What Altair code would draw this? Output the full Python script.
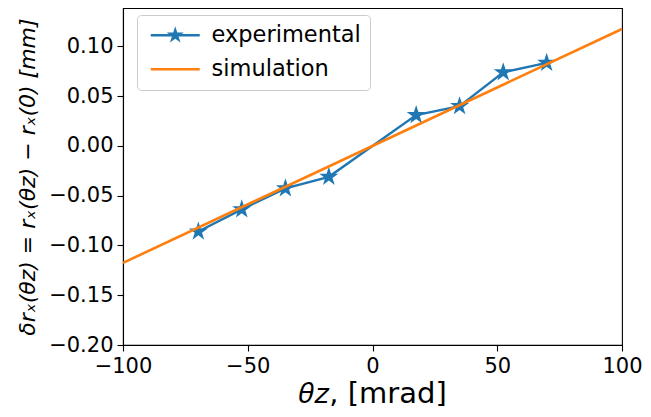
import math
import altair as alt
import pandas as pd

# ---- data ----
exp_x = [-69.8, -52.4, -34.9, -17.5, 17.5, 34.9, 52.4, 69.8]
exp_y = [-0.0860, -0.0637, -0.0426, -0.0310, 0.0310, 0.0400, 0.0740, 0.0835]
sim_x = [-100, 100]
sim_y = [-0.1175, 0.1175]
series = ["experimental", "simulation"]
colors = ["#1f77b4", "#ff7f0e"]
x_ticks = [-100, -50, 0, 50, 100]
y_ticks = [-0.20, -0.15, -0.10, -0.05, 0.00, 0.05, 0.10]


def star_path(R):
    pts = []
    for k in range(10):
        a = math.radians(-90 + 36 * k)
        r = R if k % 2 == 0 else R * 0.381966
        pts.append((r * math.cos(a), r * math.sin(a)))
    return "M" + "L".join(f"{x:.4f},{y:.4f}" for x, y in pts) + "Z"


def bar_path(hw, hh):
    return f"M{-hw},{-hh}H{hw}V{hh}H{-hw}Z"


STAR = star_path(1.0)
LEG_EXP = bar_path(2.88, 0.15) + " " + star_path(1.06)
LEG_SIM = bar_path(2.88, 0.16)

exp_df = pd.DataFrame({"x": exp_x, "y": exp_y, "series": series[0]})
sim_df = pd.DataFrame({"x": sim_x, "y": sim_y, "series": series[1]})

FONT = "DejaVu Sans"

x_enc = alt.X(
    "x:Q",
    scale=alt.Scale(domain=[-100, 100], nice=False, zero=False),
    axis=alt.Axis(
        values=x_ticks,
        title="𝜃𝑧, [mrad]",
        labelExpr="replace(datum.label, '-', '−')",
        labelFlush=False,
        titleY=57,
        titleBaseline="alphabetic",
        titleFontSize=29,
    ),
)
y_enc = alt.Y(
    "y:Q",
    scale=alt.Scale(domain=[-0.20, 0.1386], nice=False, zero=False),
    axis=alt.Axis(
        values=y_ticks,
        format=".2f",
        title="δrₓ(θz) = rₓ(θz) − rₓ(0) [mm]",
        labelExpr="replace(datum.label, '-', '−')",
        labelFlush=False,
        titleAngle=270,
        titleX=-89,
        titleBaseline="alphabetic",
        titleAlign="center",
        titleFontStyle="italic",
        titleFontSize=22,
    ),
)

exp_line = alt.Chart(exp_df).mark_line(color=colors[0], strokeWidth=2.4).encode(x=x_enc, y=y_enc)
exp_pts = alt.Chart(exp_df).mark_point(
    shape=STAR, size=400, filled=True, color=colors[0], opacity=1, strokeWidth=0
).encode(x=x_enc, y=y_enc)
sim_line = alt.Chart(sim_df).mark_line(color=colors[1], strokeWidth=2.6).encode(x=x_enc, y=y_enc)

leg_kw = dict(
    title=None,
    orient="none",
    legendX=14,
    legendY=7,
)
legend_layer = (
    alt.Chart(sim_df)
    .transform_filter("false")
    .mark_point(filled=True, opacity=1, size=289, strokeWidth=0)
    .encode(
        x=x_enc,
        y=y_enc,
        color=alt.Color("series:N", scale=alt.Scale(domain=series, range=colors), legend=alt.Legend(**leg_kw)),
        shape=alt.Shape("series:N", scale=alt.Scale(domain=series, range=[LEG_EXP, LEG_SIM]), legend=alt.Legend(**leg_kw)),
    )
)

chart = (
    alt.layer(exp_line, exp_pts, sim_line, legend_layer)
    .properties(
        width=499,
        height=337,
        autosize=alt.AutoSizeParams(type="none"),
        padding={"left": 115, "top": 0, "right": 21, "bottom": 64},
    )
    .configure_view(stroke="black", strokeWidth=1.1)
    .configure_axis(
        grid=False,
        labelFont=FONT,
        labelFontSize=21,
        labelColor="black",
        labelPadding=4,
        tickColor="black",
        tickSize=6,
        tickWidth=1.1,
        domainColor="black",
        domainWidth=1.1,
        titleFont=FONT,
        titleFontWeight="normal",
        titleColor="black",
    )
    .configure_legend(
        labelFont=FONT,
        labelFontSize=22.5,
        labelColor="black",
        strokeColor="#cccccc",
        fillColor="rgba(255,255,255,0.8)",
        cornerRadius=4,
        padding=9,
        rowPadding=11,
        labelOffset=25,
        symbolOffset=18,
        symbolSize=289,
        symbolStrokeWidth=0,
    )
)

chart.save("out.html", embed_options={"renderer": "svg", "actions": False})
